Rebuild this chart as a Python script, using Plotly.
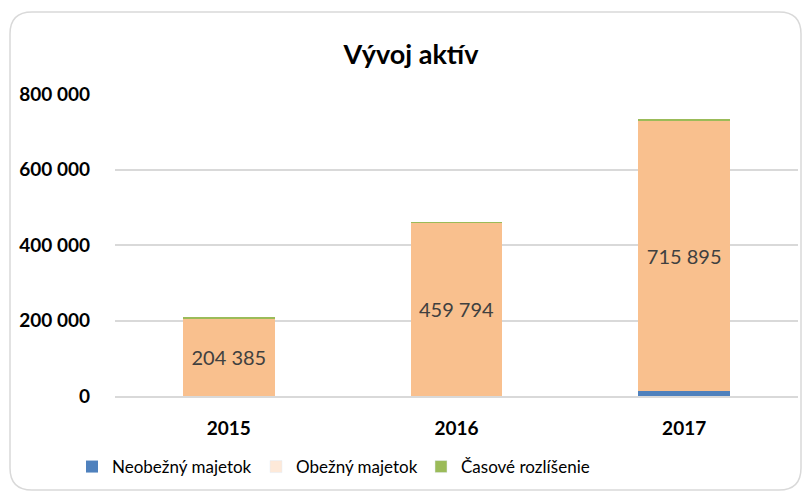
import plotly.graph_objects as go

categories = ["2015", "2016", "2017"]
neobezny = [0, 0, 14000]
obezny = [204385, 459794, 715895]
casove = [2600, 800, 3000]
y_ticks = [0, 200000, 400000, 600000, 800000]
y_tick_labels = ["0", "200 000", "400 000", "600 000", "800 000"]

W, H = 803, 497
L, R, T, B = 115, 5, 94, 101
pw, ph = W - L - R, H - T - B

def px(x):
    return (x - L) / pw

def py(y):
    return (H - B - y) / ph

FONT = "Lato"

fig = go.Figure()
fig.add_trace(go.Bar(x=categories, y=neobezny, name="Neobežný majetok",
                     marker=dict(color="#4F81BD", line=dict(width=0)),
                     legend="legend"))
fig.add_trace(go.Bar(x=categories, y=obezny, name="Obežný majetok",
                     marker=dict(color="#F9C08E", line=dict(width=0)),
                     text=obezny, texttemplate="%{text:,}", textposition="inside",
                     insidetextanchor="middle",
                     textfont=dict(family=FONT, size=20, color="#404040"),
                     showlegend=False))
fig.add_trace(go.Bar(x=categories, y=casove, name="Časové rozlíšenie",
                     marker=dict(color="#9BBB59", line=dict(width=0)),
                     showlegend=False))
# legend-only entries to reproduce legend swatch colours
fig.add_trace(go.Bar(x=[None], y=[None], name="Obežný majetok",
                     marker=dict(color="#FDE9D9"), showlegend=True, legend="legend2"))
fig.add_trace(go.Bar(x=[None], y=[None], name="Časové rozlíšenie",
                     marker=dict(color="#9BBB59"), showlegend=True, legend="legend3"))

# rounded border
x0, x1, y0, y1, r = 10, 801, 12, 490, 22
path = (f"M {px(x0+r)},{py(y0)} L {px(x1-r)},{py(y0)} "
        f"Q {px(x1)},{py(y0)} {px(x1)},{py(y0+r)} "
        f"L {px(x1)},{py(y1-r)} Q {px(x1)},{py(y1)} {px(x1-r)},{py(y1)} "
        f"L {px(x0+r)},{py(y1)} Q {px(x0)},{py(y1)} {px(x0)},{py(y1-r)} "
        f"L {px(x0)},{py(y0+r)} Q {px(x0)},{py(y0)} {px(x0+r)},{py(y0)} Z")

def leg(xpix):
    return dict(orientation="h", x=px(xpix), xanchor="left",
                y=py(467), yanchor="middle", bgcolor="rgba(0,0,0,0)",
                font=dict(family=FONT, size=17, color="black"),
                itemwidth=30)

fig.update_layout(
    width=W, height=H,
    margin=dict(l=L, r=R, t=T, b=B, autoexpand=False),
    paper_bgcolor="white", plot_bgcolor="white",
    barmode="stack", bargap=0.597,
    separators=", ",
    font=dict(family=FONT, color="black"),
    title=dict(text="<b>Vývoj aktív</b>", x=411 / W, xanchor="center",
               y=1 - 55 / H, yanchor="middle",
               font=dict(family=FONT, size=27, color="black")),
    xaxis=dict(showline=True, linecolor="#D9D9D9", linewidth=1.5,
               tickvals=categories,
               ticktext=[f"<b>{c}</b>" for c in categories],
               tickfont=dict(family=FONT, size=19, color="black"),
               ticks="", ticklabelstandoff=14),
    yaxis=dict(range=[0, 800000], tickvals=y_ticks,
               ticktext=[f"<b>{t}</b>" for t in y_tick_labels],
               showgrid=True, gridcolor="#D9D9D9", gridwidth=1.5,
               zeroline=False, showline=False, ticks="",
               ticklabelstandoff=24,
               tickfont=dict(family=FONT, size=19, color="black")),
    legend=leg(72),
    legend2=leg(256),
    legend3=leg(421),
    shapes=[dict(type="path", path=path, xref="paper", yref="paper",
                 line=dict(color="#D9D9D9", width=1.5), layer="below")],
    showlegend=True,
)

fig.write_html("out.html", config={"displayModeBar": False},
               post_script="document.body.style.margin='0px';")
